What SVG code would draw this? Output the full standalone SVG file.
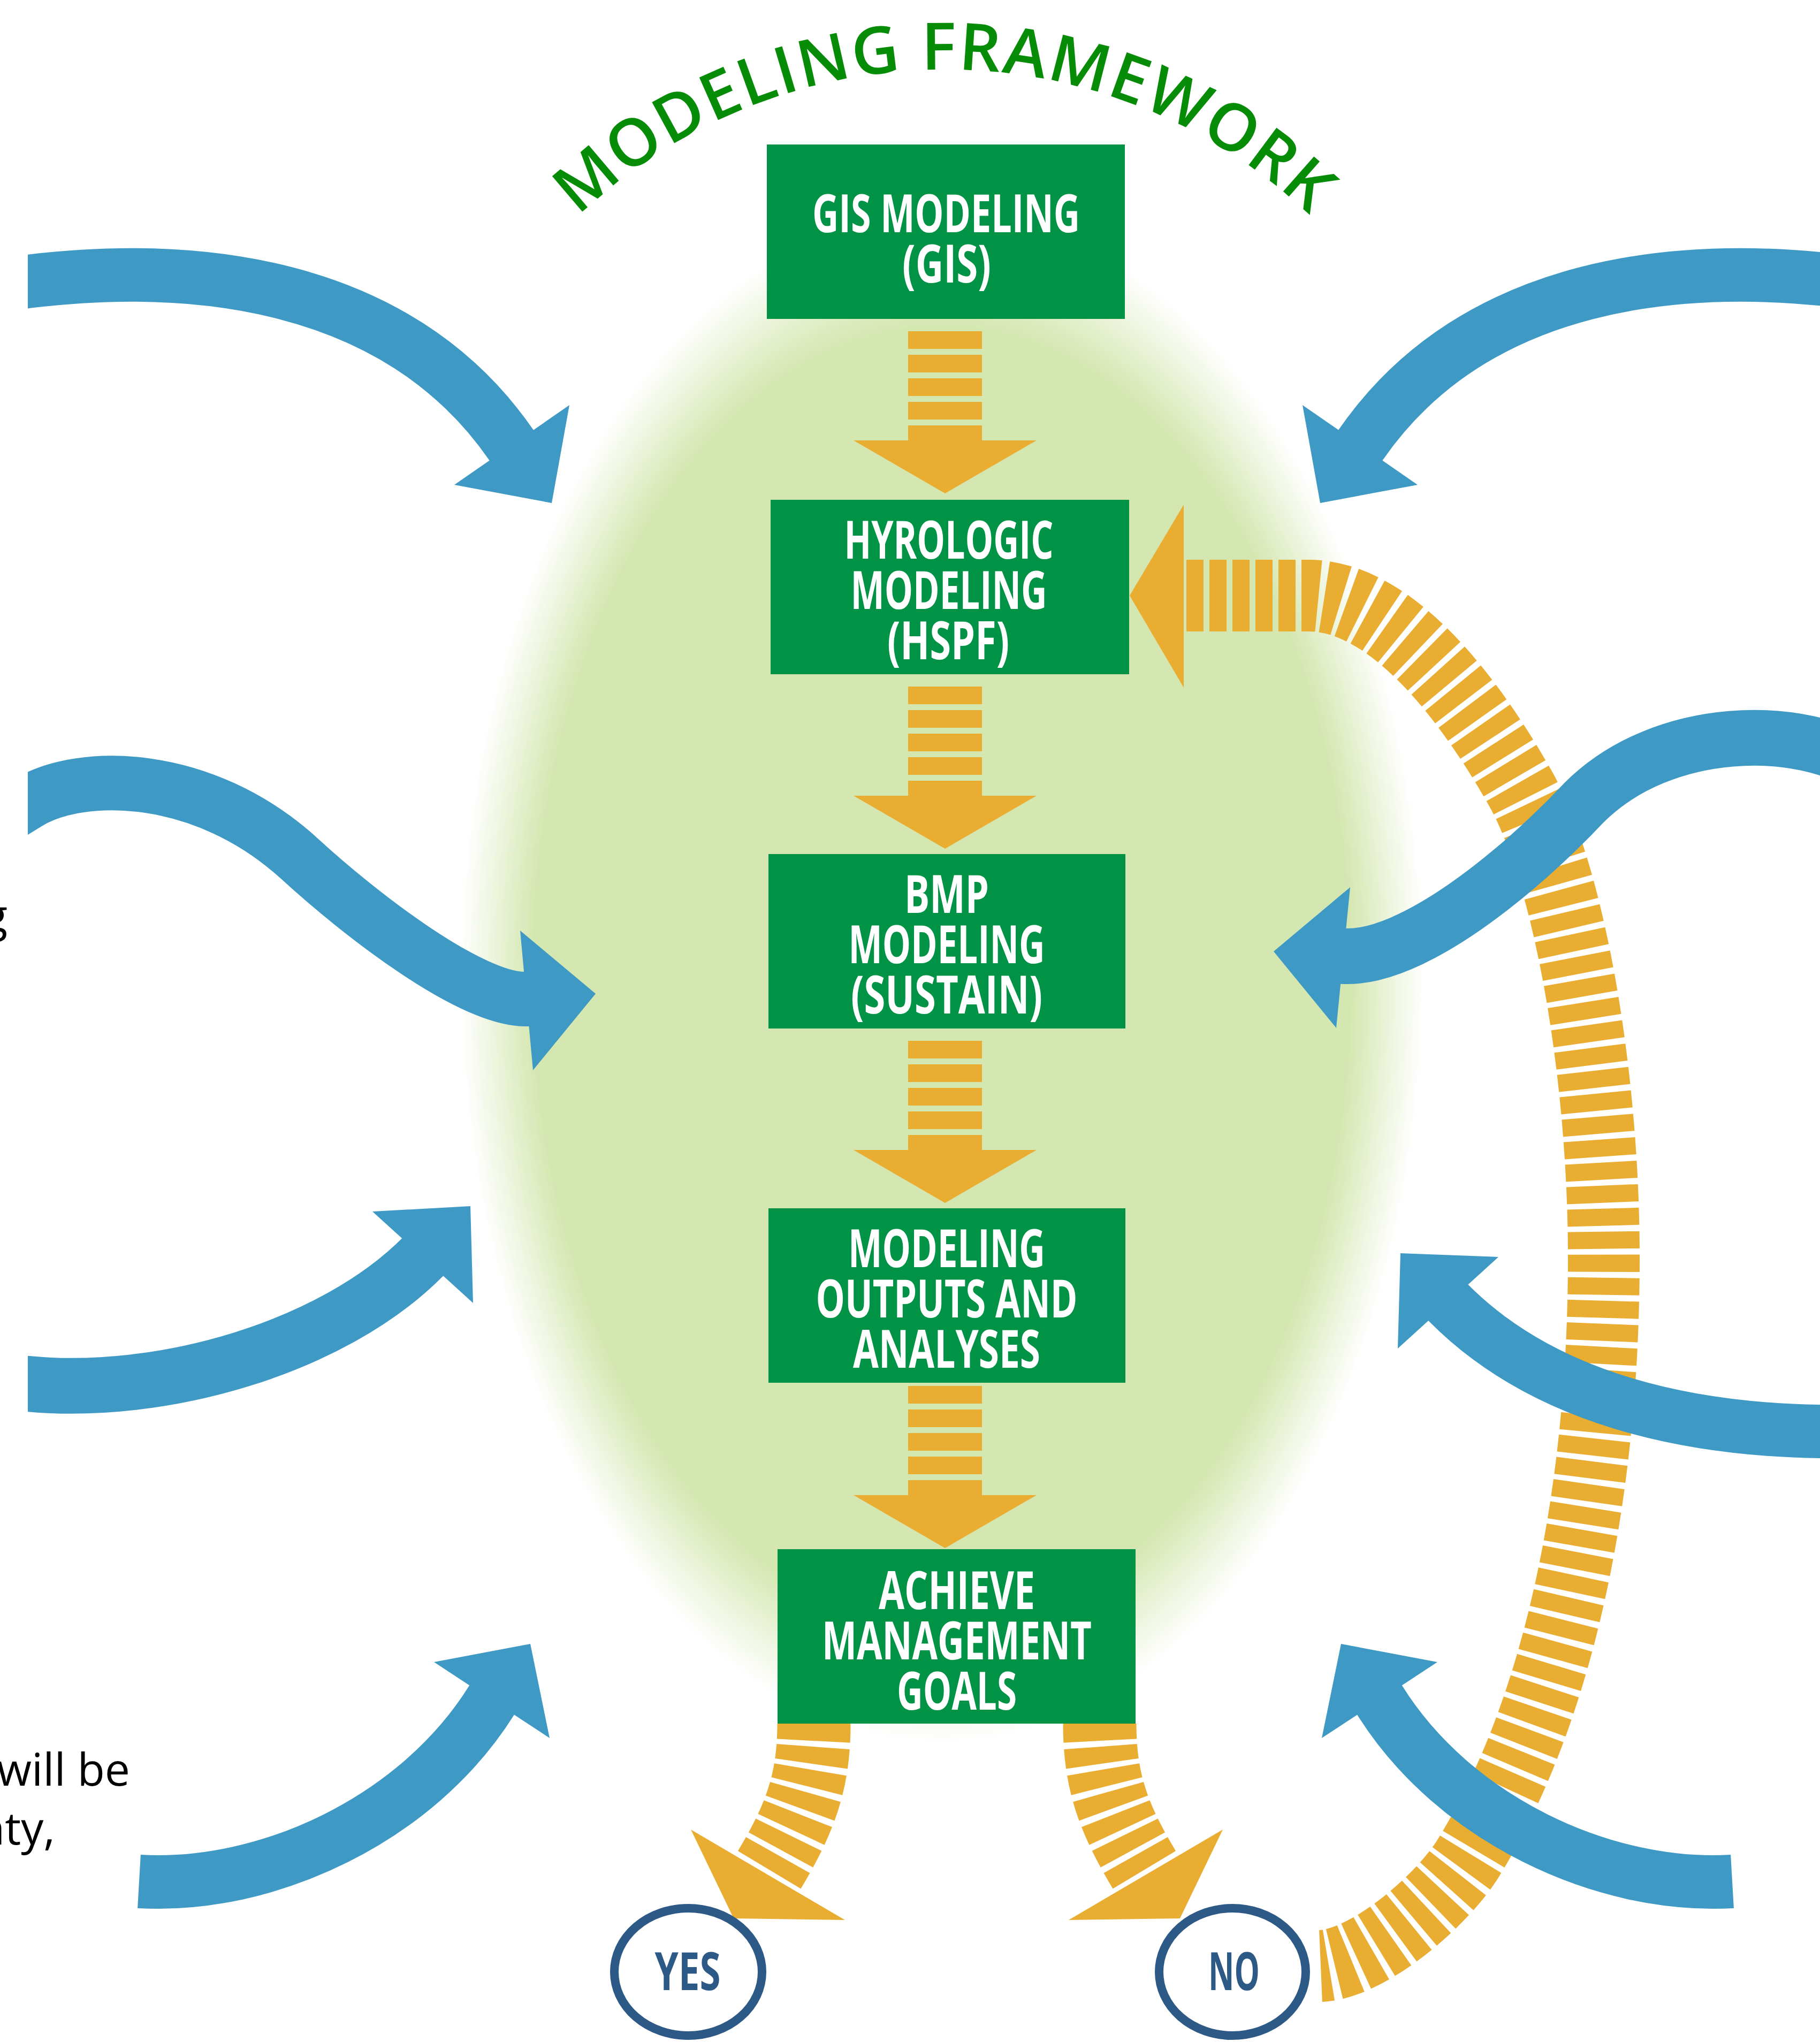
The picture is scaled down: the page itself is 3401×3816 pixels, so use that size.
<svg xmlns="http://www.w3.org/2000/svg" width="3401" height="3816" viewBox="0 0 3401 3816">
<defs>
<style>
.box{fill:#009245}
.bt{font-family:"Open Sans","Liberation Sans",sans-serif;font-weight:700;font-size:98px;fill:#ffffff;text-anchor:middle}
.orange{fill:#e9ad31}
.ostripe{fill:none;stroke:#e9ad31;stroke-dasharray:32 11}
.blue{fill:#3e9ac5}
.bband{fill:none;stroke:#3e9ac5}
.ring{fill:#ffffff;stroke:#2d5986;stroke-width:16}
.rt{font-family:"Open Sans","Liberation Sans",sans-serif;font-weight:700;font-size:98px;fill:#2d5986;text-anchor:middle}
.side{font-family:"Open Sans","Liberation Sans",sans-serif;font-size:84px;fill:#000000;text-anchor:end}
.title{font-family:"Open Sans","Liberation Sans",sans-serif;font-weight:600;font-size:122px;fill:#078c07;text-anchor:middle;letter-spacing:3px}
</style>
<radialGradient id="glow" cx="0.5" cy="0.5" r="0.5">
<stop offset="0" stop-color="#d5e7b1"/>
<stop offset="0.85" stop-color="#d5e7b1"/>
<stop offset="1" stop-color="#d5e7b1" stop-opacity="0"/>
</radialGradient>
<clipPath id="clipL"><rect x="52" y="0" width="3349" height="3816"/></clipPath>
<g id="dn">
<rect x="-69" y="23" width="138" height="33"/>
<rect x="-69" y="67" width="138" height="33"/>
<rect x="-69" y="111" width="138" height="33"/>
<rect x="-69" y="155" width="138" height="33"/>
<rect x="-69" y="199" width="138" height="30"/>
<polygon points="-171,227 171,227 0,326"/>
</g>
<path id="titleArc" d="M907,625 A991,991 0 0 1 2623,625" fill="none"/>
</defs>

<rect x="0" y="0" width="3401" height="3816" fill="#ffffff"/>
<ellipse cx="1760" cy="1825" rx="900" ry="1430" fill="url(#glow)"/>

<g id="title">
<text class="title"><textPath href="#titleArc" startOffset="50%">MODELING FRAMEWORK</textPath></text>
</g>

<g id="side-text">
<text class="side" x="14" y="1741">g</text>
<text class="side" x="243" y="3337">will be</text>
<text class="side" x="103" y="3447">nty,</text>
</g>

<g id="node-gis">
<rect class="box" x="1433" y="270" width="669" height="326"/>
<text class="bt" x="1768" y="434" textLength="500" lengthAdjust="spacingAndGlyphs">GIS MODELING</text>
<text class="bt" x="1769" y="528" textLength="166" lengthAdjust="spacingAndGlyphs">(GIS)</text>
</g>
<g id="node-hspf">
<rect class="box" x="1440" y="934" width="670" height="326"/>
<text class="bt" x="1773" y="1044" textLength="391" lengthAdjust="spacingAndGlyphs">HYROLOGIC</text>
<text class="bt" x="1773" y="1138" textLength="367" lengthAdjust="spacingAndGlyphs">MODELING</text>
<text class="bt" x="1772" y="1232" textLength="228" lengthAdjust="spacingAndGlyphs">(HSPF)</text>
</g>
<g id="node-bmp">
<rect class="box" x="1436" y="1596" width="667" height="326"/>
<text class="bt" x="1769" y="1706" textLength="158" lengthAdjust="spacingAndGlyphs">BMP</text>
<text class="bt" x="1769" y="1800" textLength="367" lengthAdjust="spacingAndGlyphs">MODELING</text>
<text class="bt" x="1769" y="1894" textLength="358" lengthAdjust="spacingAndGlyphs">(SUSTAIN)</text>
</g>
<g id="node-outputs">
<rect class="box" x="1436" y="2258" width="667" height="326"/>
<text class="bt" x="1769" y="2368" textLength="368" lengthAdjust="spacingAndGlyphs">MODELING</text>
<text class="bt" x="1769" y="2462" textLength="489" lengthAdjust="spacingAndGlyphs">OUTPUTS AND</text>
<text class="bt" x="1769" y="2556" textLength="350" lengthAdjust="spacingAndGlyphs">ANALYSES</text>
</g>
<g id="node-goals">
<rect class="box" x="1453" y="2895" width="669" height="326"/>
<text class="bt" x="1788" y="3007" textLength="292" lengthAdjust="spacingAndGlyphs">ACHIEVE</text>
<text class="bt" x="1788" y="3101" textLength="504" lengthAdjust="spacingAndGlyphs">MANAGEMENT</text>
<text class="bt" x="1788" y="3195" textLength="224" lengthAdjust="spacingAndGlyphs">GOALS</text>
</g>

<g id="connectors">
<use href="#dn" class="orange" x="1766" y="596"/>
<use href="#dn" class="orange" x="1766" y="1260"/>
<use href="#dn" class="orange" x="1766" y="1922"/>
<use href="#dn" class="orange" x="1766" y="2567"/>

<g id="loop-no">
<path class="ostripe" stroke-width="134" d="M2217,1113 L2445,1113 C2610,1113 2760,1330 2841,1473 C2930,1630 2997,2000 2997,2350 C2997,2800 2910,3200 2747,3467 C2702,3545 2560,3670 2468,3674"/>
<polygon class="orange" points="2212,943 2212,1285 2111,1113"/>
</g>

<g id="yesArrow">
<path class="ostripe" stroke-width="137" d="M1521,3221 C1521,3330 1495,3400 1433,3502"/>
<polygon class="orange" points="1291,3419 1371,3585 1579,3588"/>
</g>
<use href="#yesArrow" transform="translate(3576,0) scale(-1,1)"/>

<g id="blueA" clip-path="url(#clipL)">
<path class="bband" stroke-width="100" d="M12,531 L52,526 C350,490 739,519 955,831 l9,12"/>
<polygon class="blue" points="1064,757 1031,940 849,906"/>
</g>
<use href="#blueA" transform="translate(3498,0) scale(-1,1)"/>

<g id="blueC" clip-path="url(#clipL)">
<path class="bband" stroke-width="102" d="M18,1521 L52,1500 C150,1440 380,1440 560,1605 C670,1706 880,1870 984,1867 l15,0"/>
<polygon class="blue" points="972,1739 1113,1857 996,2000"/>
</g>

<g id="blueD">
<path class="bband" stroke-width="104" d="M3480,1430 C3370,1355 3110,1350 2960,1500 C2837,1631 2640,1792 2512,1787 l-15,-1"/>
<polygon class="blue" points="2523,1658 2380,1778 2497,1921"/>
</g>

<g id="blueE" clip-path="url(#clipL)">
<path class="bband" stroke-width="104" d="M13,2582 L53,2586 C300,2610 620,2520 790,2349 l10,-10"/>
<polygon class="blue" points="696,2264 879,2254 884,2435"/>
</g>

<g id="blueF">
<path class="bband" stroke-width="100" d="M3460,2675 C3150,2680 2880,2610 2706,2434 l-10,-10"/>
<polygon class="blue" points="2800,2349 2617,2342 2612,2520"/>
</g>

<g id="blueG">
<path class="bband" stroke-width="100" d="M260,3516 C500,3530 780,3400 919,3177 l6,-10"/>
<polygon class="blue" points="811,3106 991,3072 1027,3248"/>
</g>
<use href="#blueG" transform="translate(3497,0) scale(-1,1)"/>
</g>

<g id="node-yes">
<ellipse class="ring" cx="1286" cy="3685" rx="138" ry="119"/>
<text class="rt" x="1285" y="3719" textLength="123" lengthAdjust="spacingAndGlyphs">YES</text>
</g>
<g id="node-no">
<ellipse class="ring" cx="2303" cy="3685" rx="137" ry="119"/>
<text class="rt" x="2306" y="3719" textLength="96" lengthAdjust="spacingAndGlyphs">NO</text>
</g>
</svg>
